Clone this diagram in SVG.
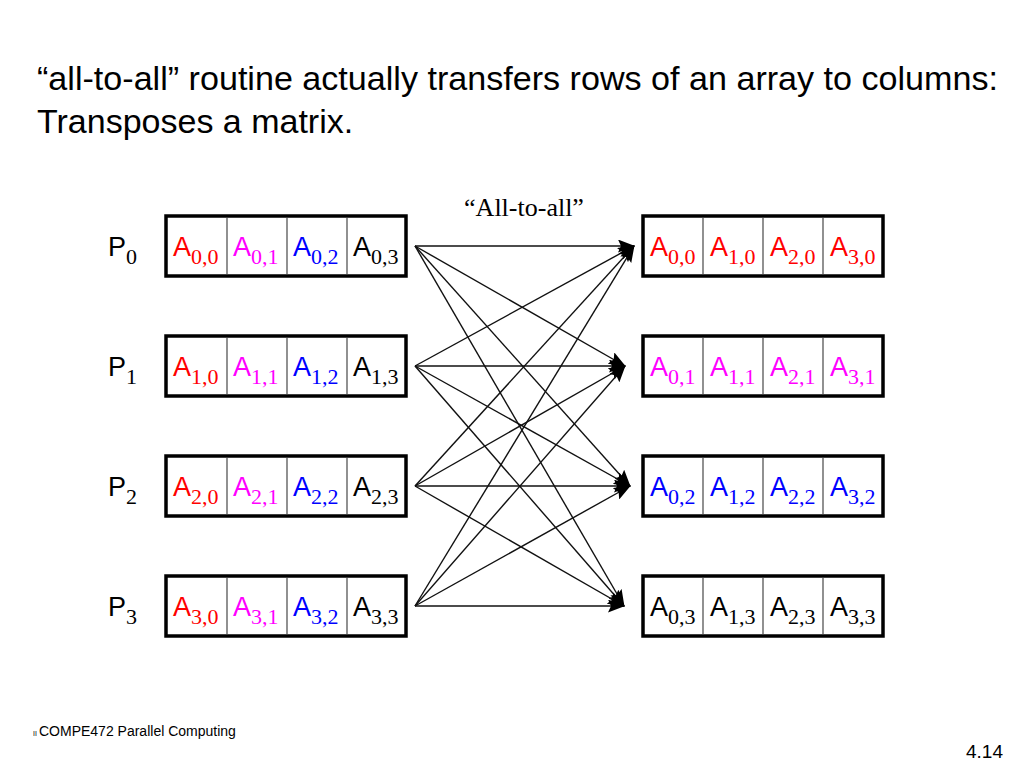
<svg xmlns="http://www.w3.org/2000/svg" width="1024" height="768" viewBox="0 0 1024 768">
<defs>
<marker id="ah" markerWidth="17" markerHeight="13" refX="16" refY="6.5" orient="auto" markerUnits="userSpaceOnUse">
<path d="M0,0 L17,6.5 L0,13 L3,6.5 Z" fill="#000"/>
</marker>
</defs>
<style>
.t{font-family:"Liberation Sans",Arial,sans-serif;fill:#000}
.a{font-family:"Liberation Sans",Arial,sans-serif;font-size:27px}
.s{font-family:"Liberation Serif","Times New Roman",serif;font-size:22px}
.box{fill:#fff;stroke:#000;stroke-width:3.5}
.div{stroke:#555;stroke-width:1.3}
.r{fill:#ff0000}.m{fill:#ff00ff}.b{fill:#0000ff}.k{fill:#000}
.ln{stroke:#111;stroke-width:1.4;fill:none}
</style>
<rect width="1024" height="768" fill="#fff"/>
<text class="t" x="37" y="90" font-size="34" textLength="961" lengthAdjust="spacingAndGlyphs">“all-to-all” routine actually transfers rows of an array to columns:</text>
<text class="t" x="37" y="133" font-size="34">Transposes a matrix.</text>
<text x="524" y="216" font-family="Liberation Serif,'Times New Roman',serif" font-size="26" text-anchor="middle" fill="#000">“All-to-all”</text>

<g id="p-labels">
<text x="108" y="256"><tspan class="a">P</tspan><tspan class="s" dy="8">0</tspan></text>
<text x="108" y="376"><tspan class="a">P</tspan><tspan class="s" dy="8">1</tspan></text>
<text x="108" y="496"><tspan class="a">P</tspan><tspan class="s" dy="8">2</tspan></text>
<text x="108" y="616"><tspan class="a">P</tspan><tspan class="s" dy="8">3</tspan></text>
</g>

<g id="src0">
<rect class="box" x="166" y="216" width="240" height="60"/>
<line class="div" x1="227" y1="218" x2="227" y2="274"/><line class="div" x1="287" y1="218" x2="287" y2="274"/><line class="div" x1="347" y1="218" x2="347" y2="274"/>
<text x="173" y="256" class="r"><tspan class="a">A</tspan><tspan class="s" dy="8">0,0</tspan></text>
<text x="233" y="256" class="m"><tspan class="a">A</tspan><tspan class="s" dy="8">0,1</tspan></text>
<text x="293" y="256" class="b"><tspan class="a">A</tspan><tspan class="s" dy="8">0,2</tspan></text>
<text x="353" y="256" class="k"><tspan class="a">A</tspan><tspan class="s" dy="8">0,3</tspan></text>
</g>
<g id="src1">
<rect class="box" x="166" y="336" width="240" height="60"/>
<line class="div" x1="227" y1="338" x2="227" y2="394"/><line class="div" x1="287" y1="338" x2="287" y2="394"/><line class="div" x1="347" y1="338" x2="347" y2="394"/>
<text x="173" y="376" class="r"><tspan class="a">A</tspan><tspan class="s" dy="8">1,0</tspan></text>
<text x="233" y="376" class="m"><tspan class="a">A</tspan><tspan class="s" dy="8">1,1</tspan></text>
<text x="293" y="376" class="b"><tspan class="a">A</tspan><tspan class="s" dy="8">1,2</tspan></text>
<text x="353" y="376" class="k"><tspan class="a">A</tspan><tspan class="s" dy="8">1,3</tspan></text>
</g>
<g id="src2">
<rect class="box" x="166" y="456" width="240" height="60"/>
<line class="div" x1="227" y1="458" x2="227" y2="514"/><line class="div" x1="287" y1="458" x2="287" y2="514"/><line class="div" x1="347" y1="458" x2="347" y2="514"/>
<text x="173" y="496" class="r"><tspan class="a">A</tspan><tspan class="s" dy="8">2,0</tspan></text>
<text x="233" y="496" class="m"><tspan class="a">A</tspan><tspan class="s" dy="8">2,1</tspan></text>
<text x="293" y="496" class="b"><tspan class="a">A</tspan><tspan class="s" dy="8">2,2</tspan></text>
<text x="353" y="496" class="k"><tspan class="a">A</tspan><tspan class="s" dy="8">2,3</tspan></text>
</g>
<g id="src3">
<rect class="box" x="166" y="576" width="240" height="60"/>
<line class="div" x1="227" y1="578" x2="227" y2="634"/><line class="div" x1="287" y1="578" x2="287" y2="634"/><line class="div" x1="347" y1="578" x2="347" y2="634"/>
<text x="173" y="616" class="r"><tspan class="a">A</tspan><tspan class="s" dy="8">3,0</tspan></text>
<text x="233" y="616" class="m"><tspan class="a">A</tspan><tspan class="s" dy="8">3,1</tspan></text>
<text x="293" y="616" class="b"><tspan class="a">A</tspan><tspan class="s" dy="8">3,2</tspan></text>
<text x="353" y="616" class="k"><tspan class="a">A</tspan><tspan class="s" dy="8">3,3</tspan></text>
</g>

<g id="dst0">
<rect class="box" x="643" y="216" width="240" height="60"/>
<line class="div" x1="703" y1="218" x2="703" y2="274"/><line class="div" x1="763" y1="218" x2="763" y2="274"/><line class="div" x1="823" y1="218" x2="823" y2="274"/>
<g class="r">
<text x="650" y="256"><tspan class="a">A</tspan><tspan class="s" dy="8">0,0</tspan></text>
<text x="710" y="256"><tspan class="a">A</tspan><tspan class="s" dy="8">1,0</tspan></text>
<text x="770" y="256"><tspan class="a">A</tspan><tspan class="s" dy="8">2,0</tspan></text>
<text x="830" y="256"><tspan class="a">A</tspan><tspan class="s" dy="8">3,0</tspan></text>
</g>
</g>
<g id="dst1">
<rect class="box" x="643" y="336" width="240" height="60"/>
<line class="div" x1="703" y1="338" x2="703" y2="394"/><line class="div" x1="763" y1="338" x2="763" y2="394"/><line class="div" x1="823" y1="338" x2="823" y2="394"/>
<g class="m">
<text x="650" y="376"><tspan class="a">A</tspan><tspan class="s" dy="8">0,1</tspan></text>
<text x="710" y="376"><tspan class="a">A</tspan><tspan class="s" dy="8">1,1</tspan></text>
<text x="770" y="376"><tspan class="a">A</tspan><tspan class="s" dy="8">2,1</tspan></text>
<text x="830" y="376"><tspan class="a">A</tspan><tspan class="s" dy="8">3,1</tspan></text>
</g>
</g>
<g id="dst2">
<rect class="box" x="643" y="456" width="240" height="60"/>
<line class="div" x1="703" y1="458" x2="703" y2="514"/><line class="div" x1="763" y1="458" x2="763" y2="514"/><line class="div" x1="823" y1="458" x2="823" y2="514"/>
<g class="b">
<text x="650" y="496"><tspan class="a">A</tspan><tspan class="s" dy="8">0,2</tspan></text>
<text x="710" y="496"><tspan class="a">A</tspan><tspan class="s" dy="8">1,2</tspan></text>
<text x="770" y="496"><tspan class="a">A</tspan><tspan class="s" dy="8">2,2</tspan></text>
<text x="830" y="496"><tspan class="a">A</tspan><tspan class="s" dy="8">3,2</tspan></text>
</g>
</g>
<g id="dst3">
<rect class="box" x="643" y="576" width="240" height="60"/>
<line class="div" x1="703" y1="578" x2="703" y2="634"/><line class="div" x1="763" y1="578" x2="763" y2="634"/><line class="div" x1="823" y1="578" x2="823" y2="634"/>
<g class="k">
<text x="650" y="616"><tspan class="a">A</tspan><tspan class="s" dy="8">0,3</tspan></text>
<text x="710" y="616"><tspan class="a">A</tspan><tspan class="s" dy="8">1,3</tspan></text>
<text x="770" y="616"><tspan class="a">A</tspan><tspan class="s" dy="8">2,3</tspan></text>
<text x="830" y="616"><tspan class="a">A</tspan><tspan class="s" dy="8">3,3</tspan></text>
</g>
</g>

<g id="connectors" class="ln" marker-end="url(#ah)">
<line x1="415" y1="246" x2="634" y2="246"/>
<line x1="415" y1="246" x2="625" y2="366"/>
<line x1="415" y1="246" x2="630" y2="486"/>
<line x1="415" y1="246" x2="624" y2="606"/>
<line x1="415" y1="366" x2="634" y2="246"/>
<line x1="415" y1="366" x2="625" y2="366"/>
<line x1="415" y1="366" x2="630" y2="486"/>
<line x1="415" y1="366" x2="624" y2="606"/>
<line x1="415" y1="486" x2="634" y2="246"/>
<line x1="415" y1="486" x2="625" y2="366"/>
<line x1="415" y1="486" x2="630" y2="486"/>
<line x1="415" y1="486" x2="624" y2="606"/>
<line x1="415" y1="606" x2="634" y2="246"/>
<line x1="415" y1="606" x2="625" y2="366"/>
<line x1="415" y1="606" x2="630" y2="486"/>
<line x1="415" y1="606" x2="624" y2="606"/>
</g>

<text class="t" x="33" y="736" font-size="7">II</text>
<text class="t" x="39" y="736" font-size="14">COMPE472 Parallel Computing</text>
<text class="t" x="1003" y="758" font-size="19" text-anchor="end">4.14</text>
</svg>
